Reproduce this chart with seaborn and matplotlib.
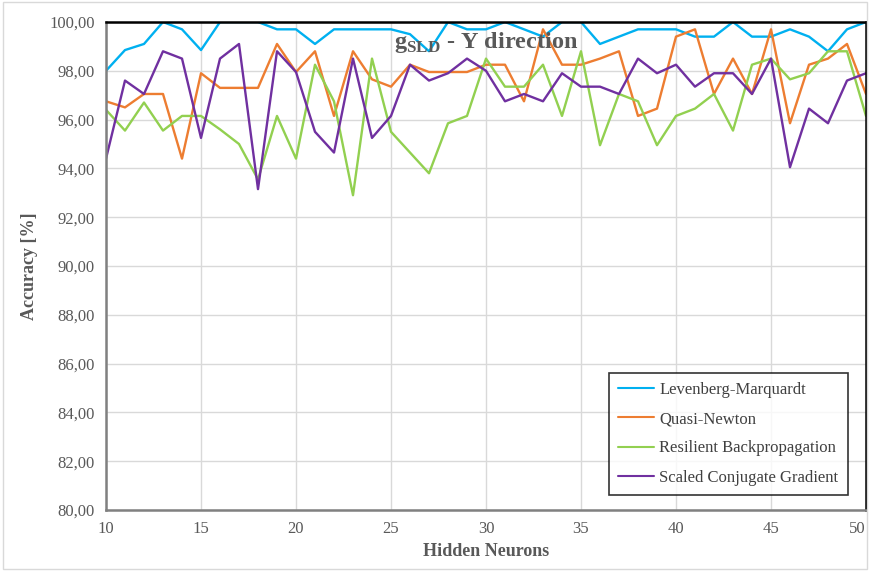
import numpy as np
import pandas as pd
import matplotlib
matplotlib.use('Agg')
import matplotlib.pyplot as plt
import seaborn as sns
from matplotlib.ticker import FuncFormatter, MultipleLocator
from matplotlib.patches import Rectangle

# 数据
neurons = list(range(10, 51))

lm = [98.0, 98.85, 99.1, 100.0, 99.7, 98.85, 100.0, 100.0, 100.0, 99.7,
      99.7, 99.1, 99.7, 99.7, 99.7, 99.7, 99.5, 98.8, 100.0, 99.7,
      99.7, 100.0, 99.7, 99.4, 100.0, 100.0, 99.1, 99.4, 99.7, 99.7,
      99.7, 99.4, 99.4, 100.0, 99.4, 99.4, 99.7, 99.4, 98.8, 99.7, 100.0]

qn = [96.75, 96.5, 97.05, 97.05, 94.4, 97.9, 97.3, 97.3, 97.3, 99.1,
      97.95, 98.8, 96.15, 98.8, 97.65, 97.35, 98.25, 97.95, 97.95, 97.95,
      98.25, 98.25, 96.75, 99.7, 98.25, 98.25, 98.5, 98.8, 96.15, 96.45,
      99.4, 99.7, 97.05, 98.5, 97.05, 99.7, 95.85, 98.25, 98.5, 99.1, 97.05]

rb = [96.4, 95.55, 96.7, 95.55, 96.15, 96.15, 95.6, 95.0, 93.55, 96.15,
      94.4, 98.25, 96.75, 92.9, 98.5, 95.5, 94.65, 93.8, 95.85, 96.15,
      98.5, 97.35, 97.35, 98.25, 96.15, 98.8, 94.95, 97.05, 96.75, 94.95,
      96.15, 96.45, 97.05, 95.55, 98.25, 98.5, 97.65, 97.9, 98.8, 98.8, 96.15]

scg = [94.4, 97.6, 97.05, 98.8, 98.5, 95.25, 98.5, 99.1, 93.15, 98.8,
       97.95, 95.5, 94.65, 98.5, 95.25, 96.15, 98.25, 97.6, 97.9, 98.5,
       98.0, 96.75, 97.05, 96.75, 97.9, 97.35, 97.35, 97.05, 98.5, 97.9,
       98.25, 97.35, 97.9, 97.9, 97.05, 98.5, 94.05, 96.45, 95.85, 97.6, 97.9]

methods = ['Levenberg-Marquardt', 'Quasi-Newton',
           'Resilient Backpropagation', 'Scaled Conjugate Gradient']
colors = ['#00B0F0', '#ED7D31', '#92D050', '#7030A0']
xticks = list(range(10, 51, 5))

df = pd.DataFrame({'Hidden Neurons': neurons * 4,
                   'Accuracy': lm + qn + rb + scg,
                   'Method': np.repeat(methods, len(neurons))})

sns.set_style('white')
plt.rcParams['font.family'] = ['Liberation Serif', 'DejaVu Serif']
plt.rcParams['mathtext.fontset'] = 'custom'
plt.rcParams['mathtext.rm'] = 'Liberation Serif'
plt.rcParams['mathtext.bf'] = 'Liberation Serif:bold'

fig = plt.figure(figsize=(8.7, 5.71), dpi=100)
ax = fig.add_axes([106 / 870, 1 - 510 / 571, 760 / 870, 488 / 571])

sns.lineplot(data=df, x='Hidden Neurons', y='Accuracy', hue='Method',
             palette=dict(zip(methods, colors)), ax=ax, linewidth=1.7,
             legend=False)

ax.set_xlim(10, 50)
ax.set_ylim(80, 100)
ax.set_xticks(xticks, [str(t) for t in xticks])
ax.yaxis.set_major_locator(MultipleLocator(2))
ax.yaxis.set_major_formatter(FuncFormatter(lambda v, p: f'{v:.2f}'.replace('.', ',')))
ax.grid(True, color='#d9d9d9', linewidth=1)
ax.tick_params(axis='both', labelsize=12, colors='#595959', length=0, pad=8)

# 最右侧刻度标签右对齐，避免被裁切
ax.get_xticklabels()[-1].set_horizontalalignment('right')

for s in ['top', 'right']:
    ax.spines[s].set_color('black')
    ax.spines[s].set_linewidth(1.8)
for s in ['left', 'bottom']:
    ax.spines[s].set_color('#808080')
    ax.spines[s].set_linewidth(1.8)

ax.set_xlabel('Hidden Neurons', fontsize=13, fontweight='bold', color='#595959', labelpad=4)
ax.set_ylabel('Accuracy [%]', fontsize=13, fontweight='bold', color='#595959', labelpad=8)

ax.text(0.5, 0.957, r'$\mathbf{g}_{\mathbf{SLD}}$ - Y direction', transform=ax.transAxes,
        ha='center', va='center', fontsize=17.5, fontweight='bold', color='#595959')

# 图例
handles = [plt.Line2D([], [], color=c, linewidth=1.5) for c in colors]
leg = ax.legend(handles, methods, loc='lower right', bbox_to_anchor=(0.976, 0.031),
                borderaxespad=0, fontsize=12, frameon=True, fancybox=False,
                handlelength=2.2, handletextpad=0.3, labelspacing=0.8,
                borderpad=0.55)
leg.get_frame().set_edgecolor('black')
leg.get_frame().set_linewidth(1.2)
for t in leg.get_texts():
    t.set_color('#404040')

# 外框
fig.patches.append(Rectangle((0.004, 0.004), 0.992, 0.992, transform=fig.transFigure,
                             fill=False, edgecolor='#d9d9d9', linewidth=1))

fig.savefig('out.png', dpi=100)
